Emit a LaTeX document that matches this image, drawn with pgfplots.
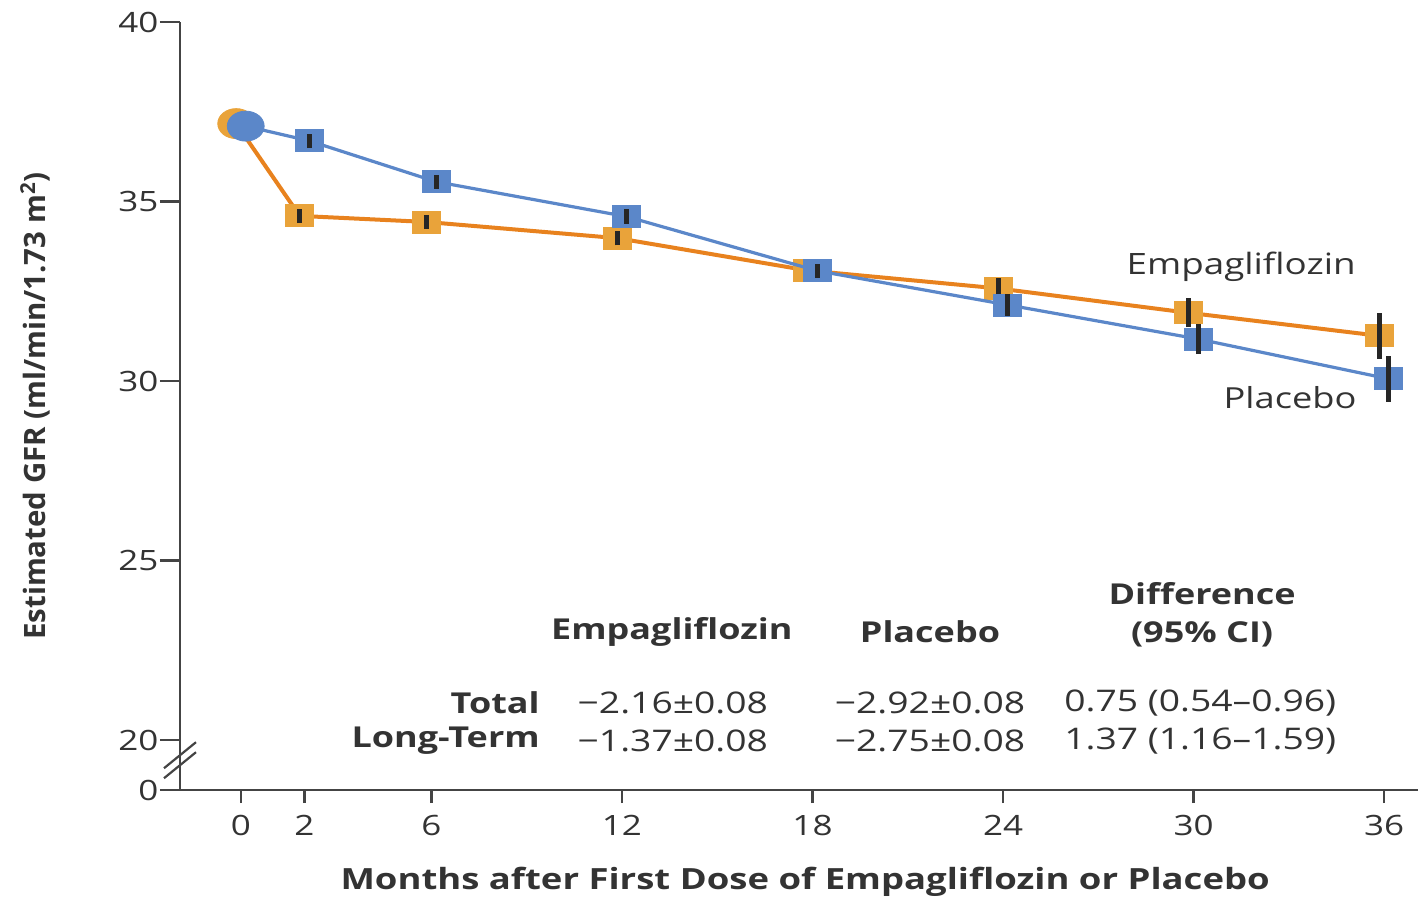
\documentclass[border=0pt]{standalone}
\usepackage{fontspec}
\setmainfont{Open Sans}[FakeStretch=1.25]
\newfontfamily\ylfont{Open Sans}
\usepackage{pgfplots}
\pgfplotsset{compat=1.18}
\definecolor{orgL}{HTML}{E8821E}
\definecolor{orgM}{HTML}{E9A33A}
\definecolor{bluL}{HTML}{5B87C9}
\definecolor{txt}{HTML}{333333}
\definecolor{axc}{HTML}{444444}
\begin{document}
\begin{tikzpicture}
\path[use as bounding box] (-90pt,-55pt) rectangle (619pt,395pt);
\begin{axis}[
  scale only axis, width=619pt, height=384pt,
  xmin=-1.92, xmax=37.07, ymin=18.61, ymax=40,
  axis x line*=bottom, axis y line*=left,
  axis line style={axc, line width=1.2pt},
  tick style={axc, line width=1.2pt},
  xtick={0,2,6,12,18,24,30,36},
  ytick={18.61,20,25,30,35,40}, yticklabels={0,20,25,30,35,40},
  tick align=outside,
  xtick style={/pgfplots/major tick length=6.5pt},
  ytick style={/pgfplots/major tick length=10pt},
  /pgf/number format/assume math mode=true,
  ticklabel style={font=\fontsize{14}{16}\selectfont, text=txt},
  xticklabel style={yshift=-5pt},
  yticklabel style={xshift=-3pt},
  clip=false,
  clip marker paths=true,
  unbounded coords=jump,
  xlabel={Months after First Dose of Empagliflozin or Placebo},
  xlabel style={font=\bfseries\fontsize{14.6}{17}\selectfont, text=txt, at={(axis description cs:0.505,-0.1198)}, anchor=center},
  ylabel={Estimated GFR (ml/min/1.73 m\textsuperscript{2})},
  ylabel style={font=\ylfont\bfseries\fontsize{14.7}{17}\selectfont, text=txt, at={(axis description cs:-0.117,0.5)}, anchor=center},
]
% Empagliflozin
\addplot[orgL, line width=2pt, mark=none] coordinates {
(-0.15,37.17) (1.85,34.6) (5.85,34.43) (11.85,33.98) (17.85,33.08) (23.85,32.58) (29.85,31.9) (35.85,31.26)};
\addplot[only marks, mark=*, mark size=7.5pt, mark options={xscale=1.23, fill=orgM, draw=orgM}] coordinates {(-0.15,37.17)};
\addplot[only marks, mark=square*, mark size=5.5pt, mark options={xscale=1.27, fill=orgM, draw=orgM}] coordinates {
(1.85,34.6) (5.85,34.43) (11.85,33.98) (17.85,33.08) (23.85,32.58) (29.85,31.9) (35.85,31.26)};
% Empagliflozin error bars (mean -/+ error)
\addplot[black!85, line width=2.4pt, mark=none] coordinates {
(1.85,34.4) (1.85,34.8) (1.85,nan)
(5.85,34.23) (5.85,34.63) (5.85,nan)
(11.85,33.78) (11.85,34.18) (11.85,nan)
(17.85,32.88) (17.85,33.28) (17.85,nan)
(23.85,32.28) (23.85,32.88) (23.85,nan)
(29.85,31.5) (29.85,32.3) (29.85,nan)
(35.85,30.62) (35.85,31.9)};
% Placebo
\addplot[bluL, line width=1.6pt, mark=none] coordinates {
(0.15,37.1) (2.15,36.69) (6.15,35.55) (12.15,34.58) (18.15,33.07) (24.15,32.12) (30.15,31.17) (36.15,30.06)};
\addplot[only marks, mark=*, mark size=7.5pt, mark options={xscale=1.23, fill=bluL, draw=bluL}] coordinates {(0.15,37.1)};
\addplot[only marks, mark=square*, mark size=5.5pt, mark options={xscale=1.27, fill=bluL, draw=bluL}] coordinates {
(2.15,36.69) (6.15,35.55) (12.15,34.58) (18.15,33.07) (24.15,32.12) (30.15,31.17) (36.15,30.06)};
% Placebo error bars (mean -/+ error)
\addplot[black!85, line width=2.4pt, mark=none] coordinates {
(2.15,36.49) (2.15,36.89) (2.15,nan)
(6.15,35.35) (6.15,35.75) (6.15,nan)
(12.15,34.38) (12.15,34.78) (12.15,nan)
(18.15,32.87) (18.15,33.27) (18.15,nan)
(24.15,31.82) (24.15,32.42) (24.15,nan)
(30.15,30.75) (30.15,31.59) (30.15,nan)
(36.15,29.42) (36.15,30.7)};
% series labels
\node[text=txt, font=\fontsize{14.7}{17}\selectfont] at (axis cs:31.5,33.18) {Empagliflozin};
\node[text=txt, font=\fontsize{14.5}{17}\selectfont] at (axis cs:33.04,29.55) {Placebo};
% table
\begin{scope}[every node/.style={text=txt, inner sep=0pt, font=\fontsize{14.9}{17}\selectfont}]
\node[font=\bfseries\fontsize{14.4}{17}\selectfont] at (axis cs:13.57,23.01) {Empagliflozin};
\node[font=\bfseries\fontsize{14.4}{17}\selectfont] at (axis cs:21.70,23.01) {Placebo};
\node[font=\bfseries\fontsize{14.4}{17}\selectfont] at (axis cs:30.27,24.07) {Difference};
\node[font=\bfseries\fontsize{14.4}{17}\selectfont] at (axis cs:30.27,22.95) {(95\% CI)};
\node[font=\bfseries\fontsize{14.4}{17}\selectfont, anchor=east] at (axis cs:9.42,21.03) {Total};
\node[font=\bfseries\fontsize{14.4}{17}\selectfont, anchor=east] at (axis cs:9.42,19.97) {Long-Term};
\node at (axis cs:13.6,21.03) {−2.16±0.08};
\node at (axis cs:13.6,19.97) {−1.37±0.08};
\node at (axis cs:21.7,21.03) {−2.92±0.08};
\node at (axis cs:21.7,19.97) {−2.75±0.08};
\node[anchor=west] at (axis cs:25.92,21.03) {0.75 (0.54–0.96)};
\node[anchor=west] at (axis cs:25.92,19.97) {1.37 (1.16–1.59)};
\end{scope}
% axis break marks
\draw[axc, line width=1.1pt] ([xshift=-8pt,yshift=-9pt]axis cs:-1.92,19.44) -- ++(16pt,13pt);
\draw[axc, line width=1.1pt] ([xshift=-8pt,yshift=-4pt]axis cs:-1.92,19.44) -- ++(16pt,13pt);
\end{axis}
\end{tikzpicture}
\end{document}
